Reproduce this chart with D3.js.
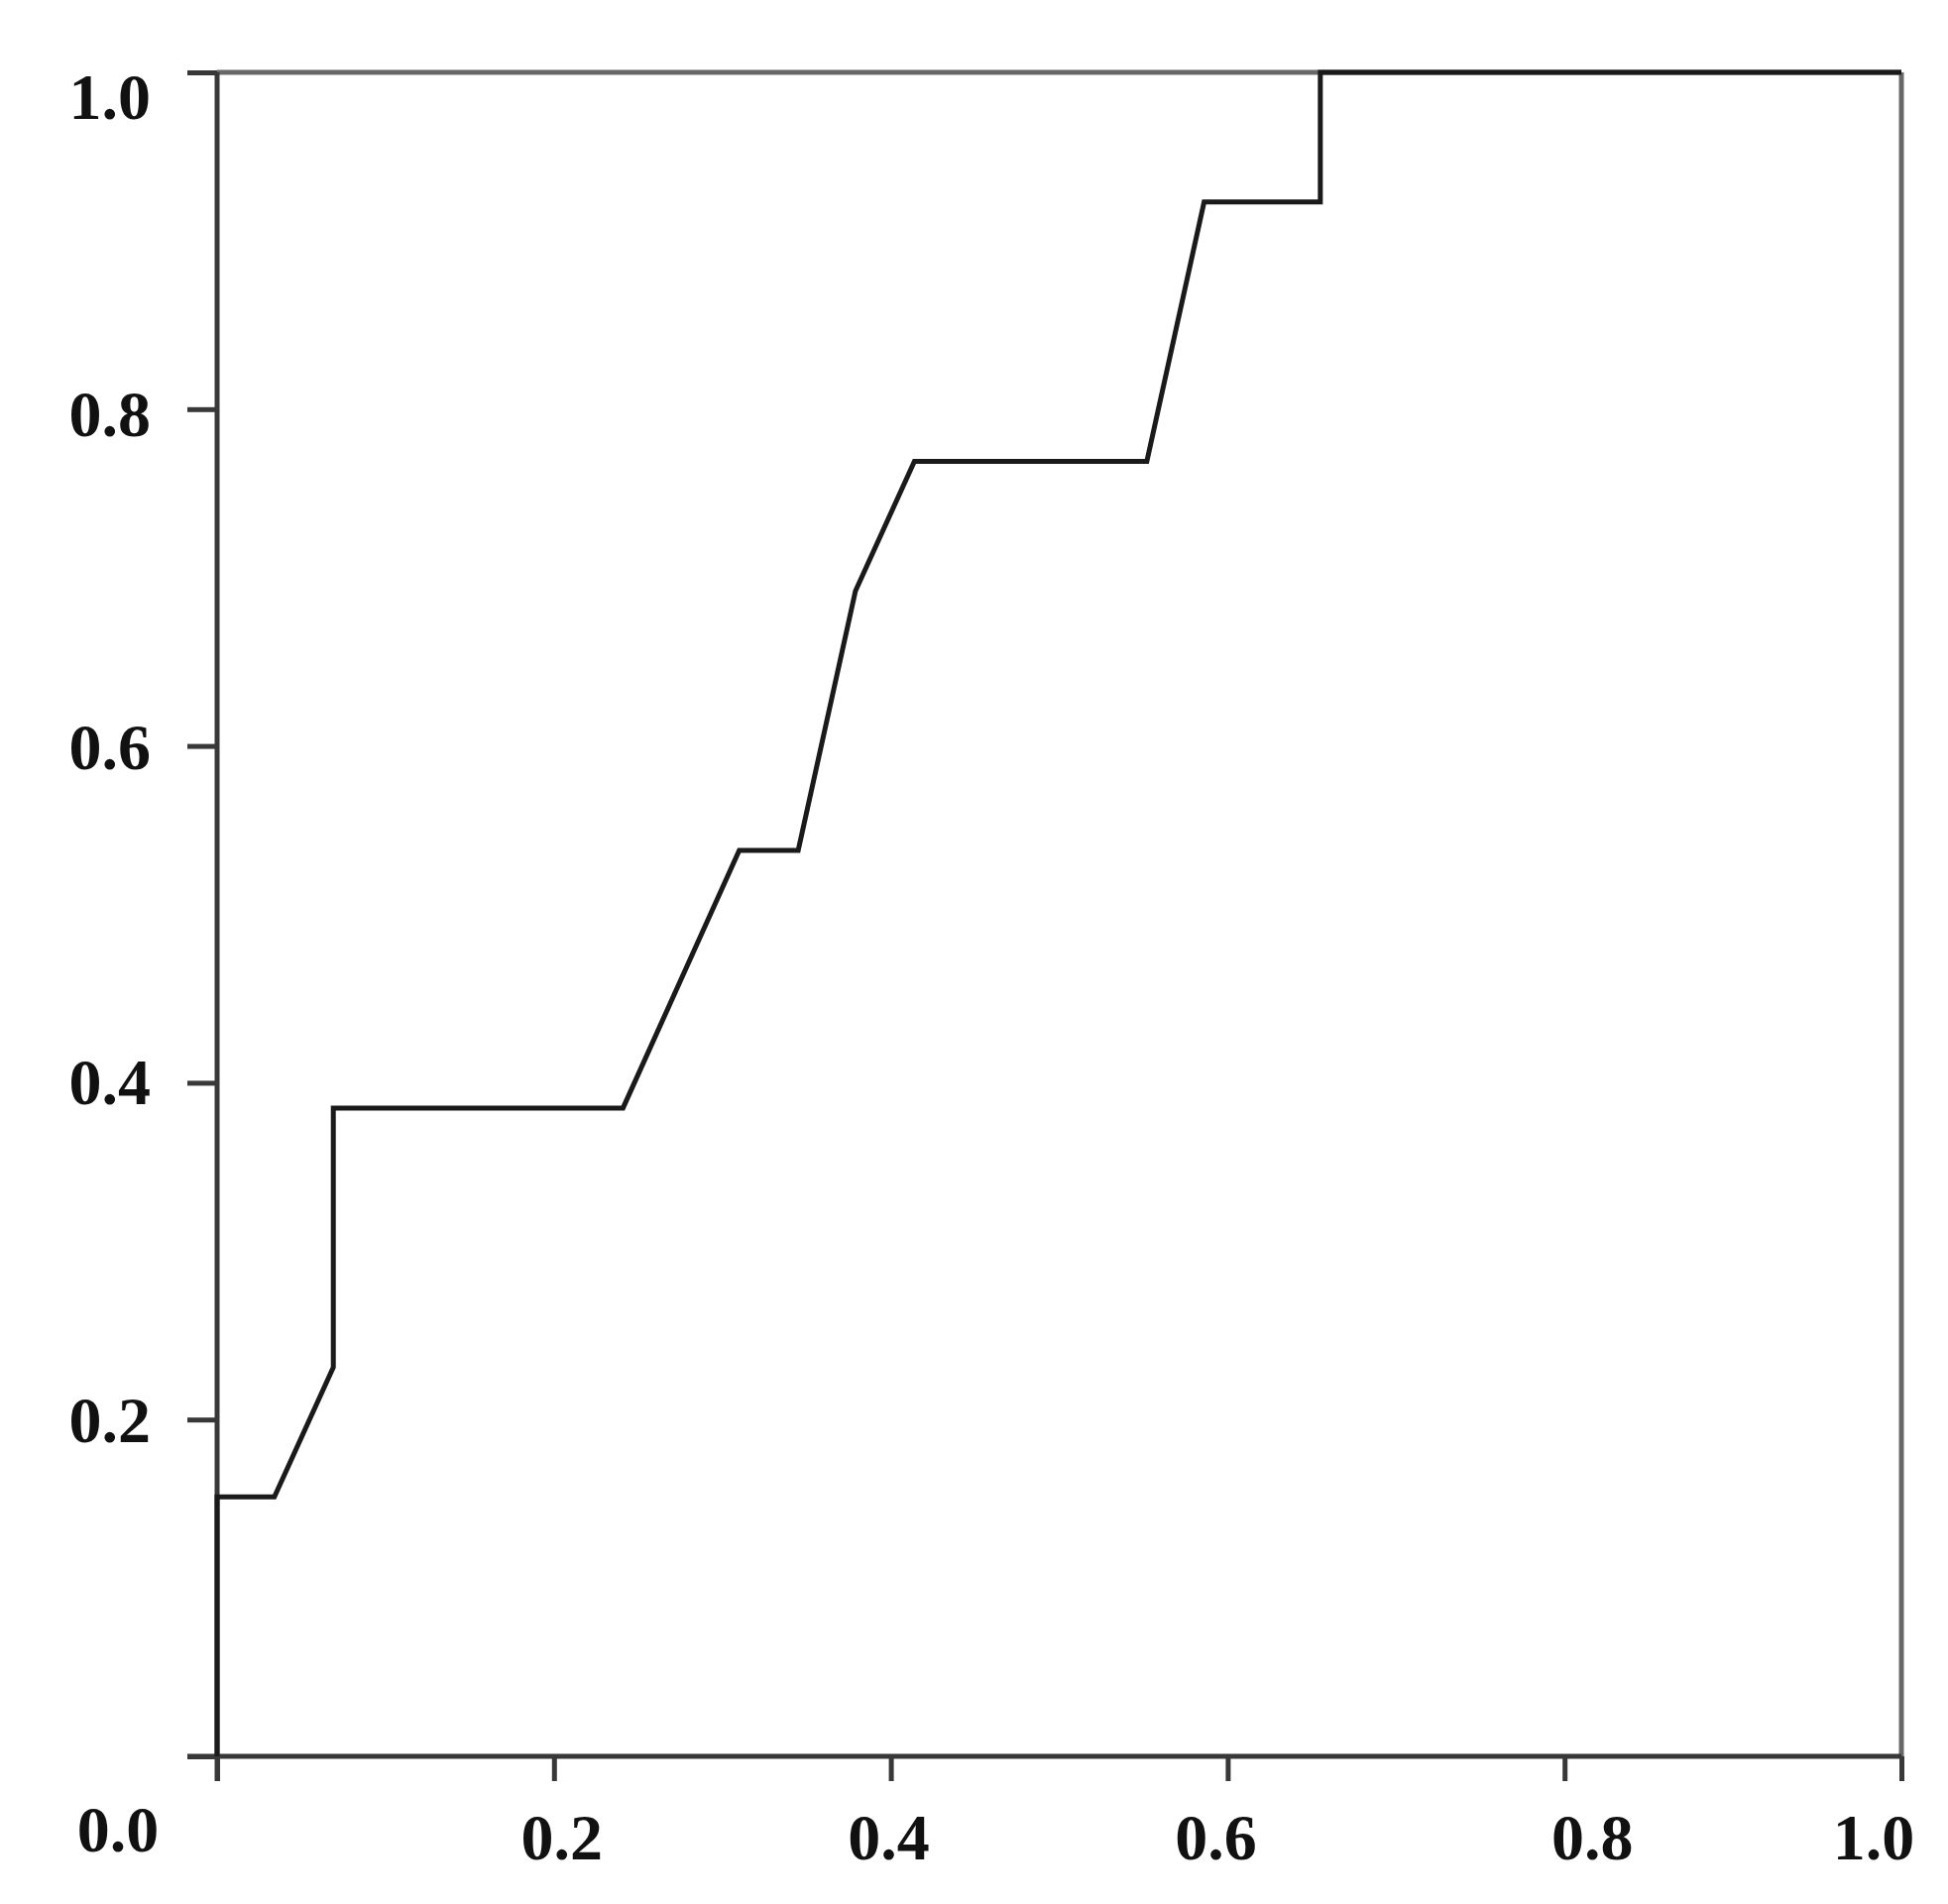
<!DOCTYPE html>
<html>
<head>
<meta charset="utf-8">
<script src="https://cdn.jsdelivr.net/npm/d3@7"></script>
<style>
  html, body { margin: 0; padding: 0; background: #ffffff; }
  svg { display: block; }
  text { font-family: "Liberation Serif", "DejaVu Serif", serif; font-weight: bold; fill: #111; }
</style>
</head>
<body>
<svg id="chart" width="1965" height="1921"></svg>
<script>
// ROC curve: false positive rate (x) and true positive rate (y)
const fpr = [0.000, 0.000, 0.034, 0.069, 0.069, 0.241, 0.310, 0.345, 0.379, 0.414, 0.552, 0.586, 0.655, 0.655, 1.000];
const tpr = [0.000, 0.154, 0.154, 0.231, 0.385, 0.385, 0.538, 0.538, 0.692, 0.769, 0.769, 0.923, 0.923, 1.000, 1.000];
const xTicks = [0, 0.2, 0.4, 0.6, 0.8, 1.0];
const yTicks = [0, 0.2, 0.4, 0.6, 0.8, 1.0];
const xTickLabels = ["0.0", "0.2", "0.4", "0.6", "0.8", "1.0"];
const yTickLabels = ["", "0.2", "0.4", "0.6", "0.8", "1.0"];

// layout
const L = 219, R = 1918, T = 73, B = 1772;
// label nudges (layout only) to mimic the original placement
const xLabelDx = [-100, 8, -2, -12, 28, -28];
const xLabelDy = [-8, 0, 0, 0, 0, 0];
const yLabelDy = [0, 0, -2, 0, 4, 24];

const svg = d3.select("#chart");
const x = d3.scaleLinear().domain([0, 1]).range([L, R]);
const y = d3.scaleLinear().domain([0, 1]).range([B, T]);

// frame (top and right)
svg.append("line").attr("x1", L).attr("x2", R).attr("y1", T).attr("y2", T)
  .attr("stroke", "#686868").attr("stroke-width", 5);
svg.append("line").attr("x1", R).attr("x2", R).attr("y1", T).attr("y2", B)
  .attr("stroke", "#686868").attr("stroke-width", 5);

// axes (ticks only)
const xAxis = svg.append("g").attr("transform", `translate(0,${B})`)
  .call(d3.axisBottom(x).tickValues(xTicks).tickSize(25).tickSizeOuter(0).tickFormat(""));
const yAxis = svg.append("g").attr("transform", `translate(${L},0)`)
  .call(d3.axisLeft(y).tickValues(yTicks).tickSize(30).tickSizeOuter(0).tickFormat(""));
[xAxis, yAxis].forEach(g => {
  g.selectAll("path.domain").attr("stroke", "#383838").attr("stroke-width", 5);
  g.selectAll(".tick line").attr("stroke", "#383838").attr("stroke-width", 5);
});
// extend axis lines to include outer ticks
xAxis.select("path.domain").attr("d", `M${L - 30},0H${R}`);
yAxis.select("path.domain").attr("d", `M0,${T}V${B + 25}`);

// curve
const pts = fpr.map((v, i) => [v, tpr[i]]);
svg.append("path")
  .datum(pts)
  .attr("fill", "none")
  .attr("stroke", "#1a1a1a")
  .attr("stroke-width", 5)
  .attr("stroke-linejoin", "miter")
  .attr("d", d3.line().x(d => x(d[0])).y(d => y(d[1])));

// tick labels
svg.append("g").selectAll("text").data(xTicks).join("text")
  .attr("x", (d, i) => x(d) + xLabelDx[i])
  .attr("y", (d, i) => 1876 + xLabelDy[i])
  .attr("text-anchor", "middle")
  .attr("font-size", 66)
  .text((d, i) => xTickLabels[i]);

svg.append("g").selectAll("text").data(yTicks).join("text")
  .attr("x", 152)
  .attr("y", (d, i) => y(d) + yLabelDy[i])
  .attr("dy", "0.35em")
  .attr("text-anchor", "end")
  .attr("font-size", 66)
  .text((d, i) => yTickLabels[i]);
</script>
</body>
</html>
